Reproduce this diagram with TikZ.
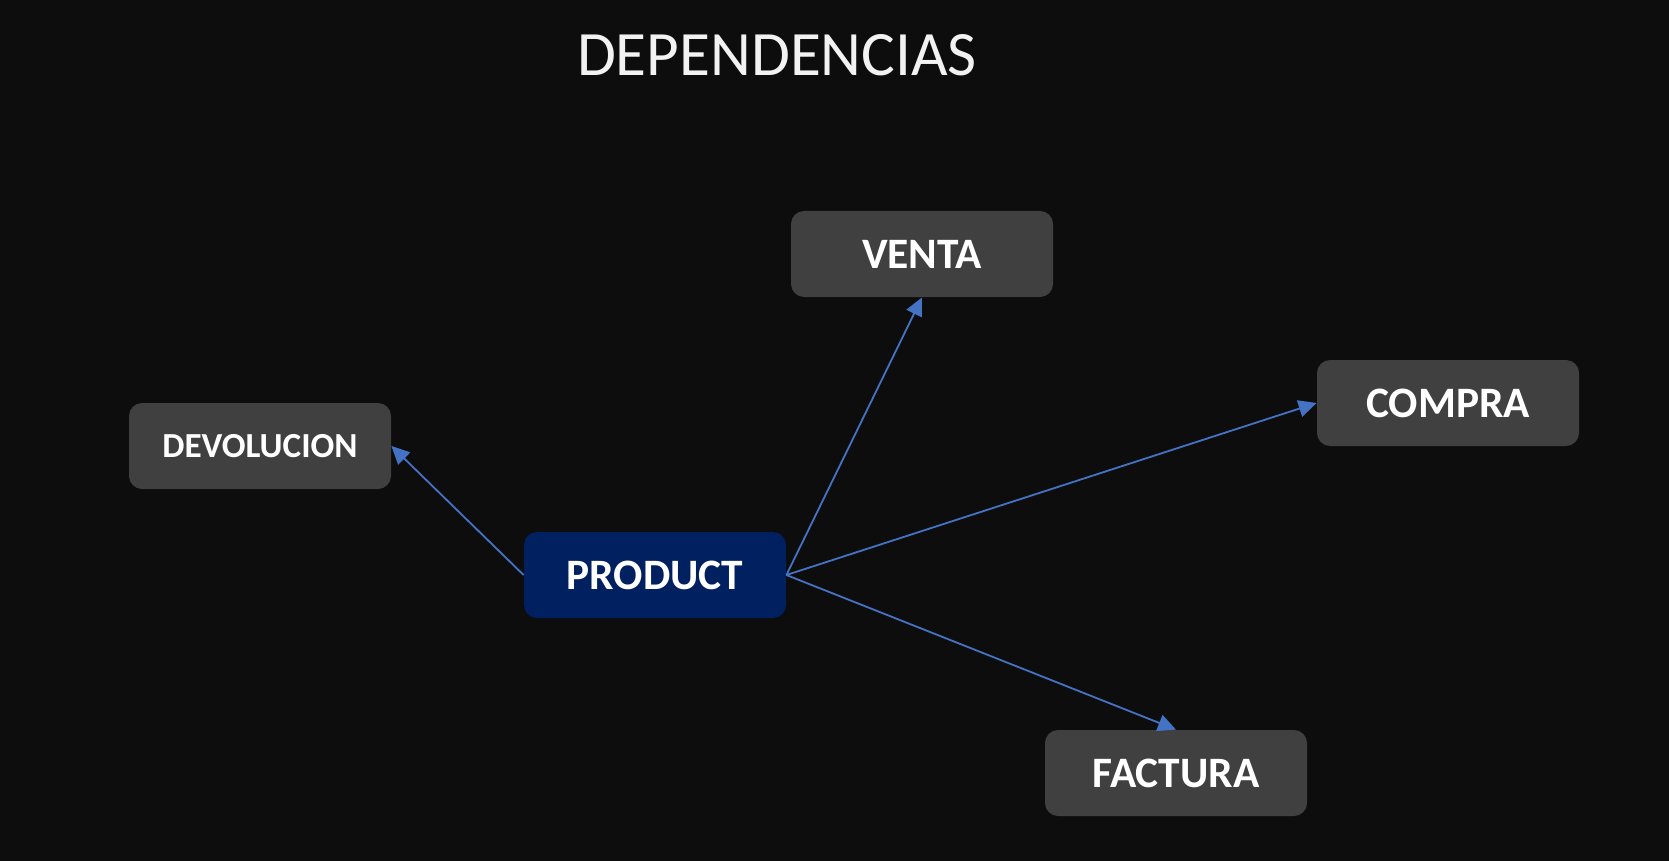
\documentclass[tikz,border=0pt]{standalone}
\usepackage{fontspec}
\setmainfont{Carlito}
\usetikzlibrary{arrows.meta}
\definecolor{bgc}{HTML}{0D0D0D}
\definecolor{boxgray}{HTML}{404040}
\definecolor{navy}{HTML}{002060}
\definecolor{arrowblue}{HTML}{4472C4}
\definecolor{titlec}{HTML}{F2F2F2}
\tikzset{
  entity/.style={rectangle, rounded corners=6.5pt, fill=boxgray, text=white,
    minimum width=131pt, minimum height=43pt, inner sep=0pt,
    font=\fontsize{21.7}{24}\selectfont\bfseries},
  mainentity/.style={entity, fill=navy},
  dep/.style={draw=arrowblue, line width=0.9pt, -{Triangle[length=9pt,width=8.5pt]}},
  titletext/.style={text=titlec, inner sep=0pt, font=\fontsize{31.6}{35}\selectfont}
}
\begin{document}
\begin{tikzpicture}[x=0.5pt,y=-0.5pt]
  \fill[bgc] (0,0) rectangle (1669,861);
  \useasboundingbox (0,0) rectangle (1669,861);
  \node[titletext] (title) at (777,55.5) {DEPENDENCIAS};
  \node[mainentity] (product) at (655,575) {PRODUCT};
  \node[entity] (venta) at (922,254) {VENTA};
  \node[entity] (compra) at (1448,403) {COMPRA};
  \node[entity, font=\fontsize{17.6}{20}\selectfont\bfseries] (devolucion) at (260,446) {DEVOLUCION};
  \node[entity] (factura) at (1176,773) {FACTURA};
  \draw[dep] (product.west) -- (devolucion.east);
  \draw[dep] (product.east) -- (venta.south);
  \draw[dep] (product.east) -- (compra.west);
  \draw[dep] (product.east) -- (factura.north);
\end{tikzpicture}
\end{document}
